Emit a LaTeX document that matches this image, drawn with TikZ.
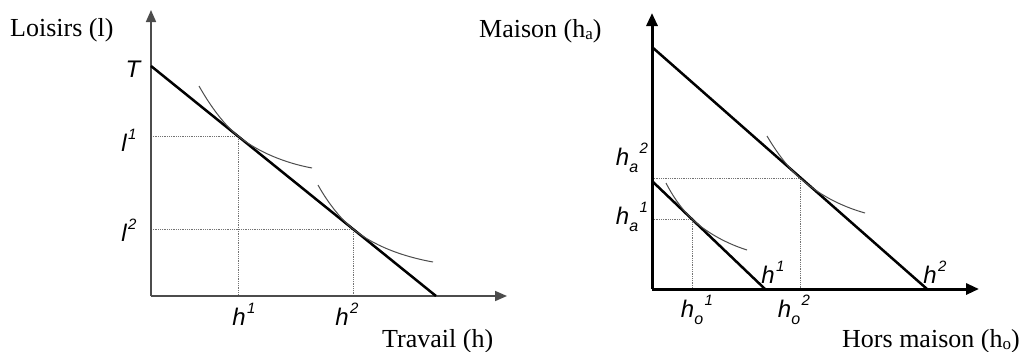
\documentclass[tikz,border=0pt]{standalone}
\usepackage{fontspec}
\setmainfont{Liberation Serif}
\newfontfamily\labfont{Liberation Sans}
\usetikzlibrary{arrows.meta}
\newcommand{\spx}[1]{\kern0.06em\raisebox{0.5em}{\fontsize{15}{15}\selectfont #1}}
\newcommand{\sbx}[1]{\raisebox{-0.28em}{\fontsize{16}{16}\selectfont #1}}
\newcommand{\smallsub}[1]{\raisebox{-0.08em}{\fontsize{17}{17}\selectfont #1}}
\begin{document}
\begin{tikzpicture}[x=1pt,y=-1pt,
  title/.style={font=\fontsize{26}{30}\selectfont, inner sep=0pt},
  lab/.style={font=\labfont\itshape\fontsize{24}{26}\selectfont, inner sep=0pt},
  thinaxis/.style={line width=1.7pt, draw=black!70, -{Triangle[length=12pt,width=10pt]}},
  thickaxis/.style={line width=3pt, draw=black, -{Triangle[length=13pt,width=11pt]}},
  budget/.style={line width=2.5pt, draw=black},
  icurve/.style={line width=1pt, draw=black!70},
  guide/.style={line width=0.8pt, draw=black!55, densely dotted}]
\useasboundingbox (0,0) rectangle (1024,351);
% ---------- left chart ----------
\coordinate (O1) at (151,296);
\coordinate (Y1) at (151,10);
\coordinate (X1) at (507,296);
\coordinate (T) at (151,66);
\coordinate (B1) at (436,296);
\coordinate (P1) at (238,136);
\coordinate (P2) at (353,229);
\coordinate (L1) at (151,136);
\coordinate (L2) at (151,229);
\coordinate (H1) at (238,296);
\coordinate (H2) at (353,296);
\draw[guide] (L1) -- (P1) -- (H1);
\draw[guide] (L2) -- (P2) -- (H2);
\draw[thinaxis] (O1) -- (Y1);
\draw[thinaxis] (O1) -- (X1);
\draw[budget] (T) -- (B1);
\draw[icurve] (199,86) .. controls (208,102) and (222,123) .. (P1)
  .. controls (258,152) and (285,163) .. (312,168);
\draw[icurve] (318,185) .. controls (324,196) and (337,216) .. (P2)
  .. controls (373,245) and (400,256) .. (433,262);
\node[lab] (tT) at (133,69) {T};
\node[lab] (tl1) at (129,140) {l\spx{1}};
\node[lab] (tl2) at (129,230) {l\spx{2}};
\node[lab] (th1) at (244,314) {h\spx{1}};
\node[lab] (th2) at (347,314) {h\spx{2}};
\node[title, anchor=base west] (loisirs) at (10,36) {Loisirs (l)};
\node[title, anchor=base west] (travail) at (382,347) {Travail (h)};
% ---------- right chart ----------
\coordinate (O2) at (652,289);
\coordinate (Y2) at (652,13);
\coordinate (X2) at (979,289);
\coordinate (A2) at (652,47);
\coordinate (C2) at (927,289);
\coordinate (A1) at (652,181);
\coordinate (C1) at (765,289);
\coordinate (Q2) at (800,178);
\coordinate (Q1) at (692,219);
\coordinate (M2) at (652,178);
\coordinate (M1) at (652,219);
\coordinate (N2) at (800,289);
\coordinate (N1) at (692,289);
\draw[guide] (M2) -- (Q2) -- (N2);
\draw[guide] (M1) -- (Q1) -- (N1);
\draw[budget] (A2) -- (C2);
\draw[budget] (A1) -- (C1);
\draw[thickaxis] (O2) -- (Y2);
\draw[thickaxis] (O2) -- (X2);
\draw[icurve] (767,136) .. controls (774,148) and (786,166) .. (Q2)
  .. controls (818,194) and (840,206) .. (865,213);
\draw[icurve] (666,183) .. controls (671,193) and (680,207.5) .. (Q1)
  .. controls (706,232) and (725,243) .. (747,250);
\node[lab] (tha2) at (632,158) {h\sbx{a}\spx{2}};
\node[lab] (tha1) at (632,217) {h\sbx{a}\spx{1}};
\node[lab] (trh1) at (773,272) {h\spx{1}};
\node[lab] (trh2) at (935,272) {h\spx{2}};
\node[lab] (tho1) at (697,310) {h\sbx{o}\spx{1}};
\node[lab] (tho2) at (794,310) {h\sbx{o}\spx{2}};
\node[title, anchor=base west] (maison) at (479,37) {Maison (h\smallsub{a})};
\node[title, anchor=base west] (hors) at (842,347) {Hors maison (h\smallsub{o})};
\end{tikzpicture}
\end{document}
